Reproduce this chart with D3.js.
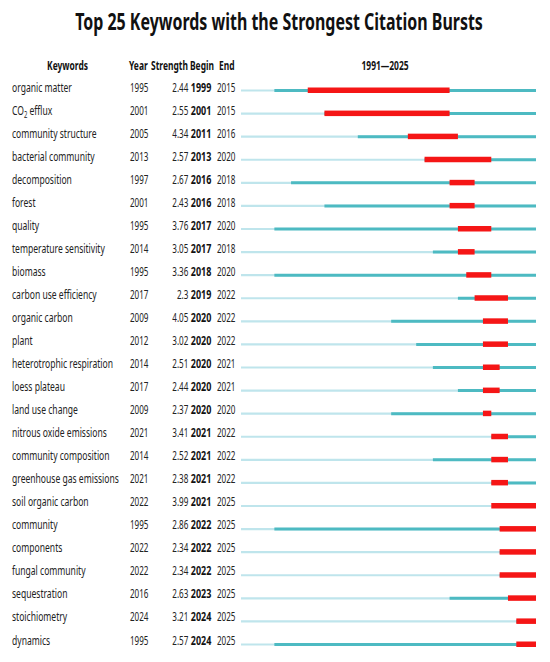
<!DOCTYPE html>
<html><head><meta charset="utf-8">
<script src="https://cdn.jsdelivr.net/npm/d3@7"></script>
<style>html,body{margin:0;padding:0;background:#fff;}svg{display:block;}</style>
</head><body>
<svg id="chart" width="550" height="662"></svg>
<script>
const keywords = ["organic matter","CO2 efflux","community structure","bacterial community","decomposition","forest","quality","temperature sensitivity","biomass","carbon use efficiency","organic carbon","plant","heterotrophic respiration","loess plateau","land use change","nitrous oxide emissions","community composition","greenhouse gas emissions","soil organic carbon","community","components","fungal community","sequestration","stoichiometry","dynamics"];
const years    = [1995,2001,2005,2013,1997,2001,1995,2014,1995,2017,2009,2012,2014,2017,2009,2021,2014,2021,2022,1995,2022,2022,2016,2024,1995];
const strengths= ["2.44","2.55","4.34","2.57","2.67","2.43","3.76","3.05","3.36","2.3","4.05","3.02","2.51","2.44","2.37","3.41","2.52","2.38","3.99","2.86","2.34","2.34","2.63","3.21","2.57"];
const begins   = [1999,2001,2011,2013,2016,2016,2017,2017,2018,2019,2020,2020,2020,2020,2020,2021,2021,2021,2021,2022,2022,2022,2023,2024,2024];
const ends     = [2015,2015,2016,2020,2018,2018,2020,2018,2020,2022,2022,2022,2021,2021,2020,2022,2022,2022,2025,2025,2025,2025,2025,2025,2025];
const headers  = ["Keywords","Year","Strength","Begin","End"];
const titleText = "Top 25 Keywords with the Strongest Citation Bursts";
const rangeLabel = "1991\u20142025";
const firstYear = 1991, lastYear = 2025;

const svg = d3.select("#chart");
const FONT = "'Noto Sans', 'Open Sans', sans-serif";
const FS = 13;

function measure(str, size, weight){
  const t = svg.append("text").attr("font-family",FONT).attr("font-size",size).attr("font-weight",weight).text(str);
  const w = t.node().getComputedTextLength(); t.remove(); return w;
}
const sxTitle = 408 / measure(titleText, 24, "bold");
const sxBody = (101 / measure("heterotrophic respiration", FS, "normal") + 60 / measure("decomposition", FS, "normal")) / 2;
const sxNum = 18.5 / measure("1997", FS, "normal");
const sxBold = 20.5 / measure("2016", FS, "bold");
const sxHead = 41 / measure("Keywords", FS, "bold");

function txt(x, y, o){
  o = o || {};
  return svg.append("text")
    .attr("transform", `translate(${x},${y}) scale(${o.sx||sxBody},1)`)
    .attr("font-family", FONT)
    .attr("font-size", o.size || FS)
    .attr("font-weight", o.weight || "normal")
    .attr("fill", o.fill || "#222")
    .attr("text-anchor", o.anchor || "start");
}

// title
txt(279, 30, {sx:sxTitle, size:24, weight:"bold", anchor:"middle", fill:"#111"}).text(titleText);

// headers
const headerY = 70;
const hOpt = a => ({sx:sxHead, weight:"bold", fill:"#111", anchor:a||"start"});
txt(67.5, headerY, hOpt("middle")).text(headers[0]);
txt(129, headerY, hOpt()).text(headers[1]);
txt(151, headerY, hOpt()).text(headers[2]);
txt(190, headerY, hOpt()).text(headers[3]);
txt(219, headerY, hOpt()).text(headers[4]);
txt(385, headerY, hOpt("middle")).text(rangeLabel);

const x = d3.scaleLinear().domain([firstYear, lastYear + 1]).range([241, 533]);
const trackEnd = 536;
const segEnd = yr => yr >= lastYear ? trackEnd : x(yr + 1);
const rowText = d3.scaleLinear().domain([0, 24]).range([91.5, 644.5]);
const rowBar = d3.scaleLinear().domain([0, 24]).range([90.5, 644.5]);

keywords.forEach((k, i) => {
  const ty = rowText(i);
  const t = txt(12, ty, {});
  if (k === "CO2 efflux") {
    t.append("tspan").text("CO");
    t.append("tspan").attr("font-size", 9).attr("dy", 3).text("2");
    t.append("tspan").attr("dy", -3).text(" efflux");
  } else t.text(k);
  txt(130, ty, {sx:sxNum}).text(years[i]);
  txt(188.3, ty, {sx:sxNum, anchor:"end"}).text(strengths[i]);
  txt(190.8, ty, {sx:sxBold, weight:"bold", fill:"#111"}).text(begins[i]);
  txt(217, ty, {sx:sxNum}).text(ends[i]);

  const by = rowBar(i);
  svg.append("line").attr("x1", x(firstYear)).attr("x2", trackEnd)
    .attr("y1", by).attr("y2", by).attr("stroke", "#bfe5ec").attr("stroke-width", 2.2);
  svg.append("line").attr("x1", x(years[i])).attr("x2", trackEnd)
    .attr("y1", by).attr("y2", by).attr("stroke", "#4dbac2").attr("stroke-width", 3);
  svg.append("rect").attr("x", x(begins[i])).attr("width", segEnd(ends[i]) - x(begins[i]))
    .attr("y", by - 3).attr("height", 5.5).attr("fill", "#f51616");
});
</script>
</body></html>
